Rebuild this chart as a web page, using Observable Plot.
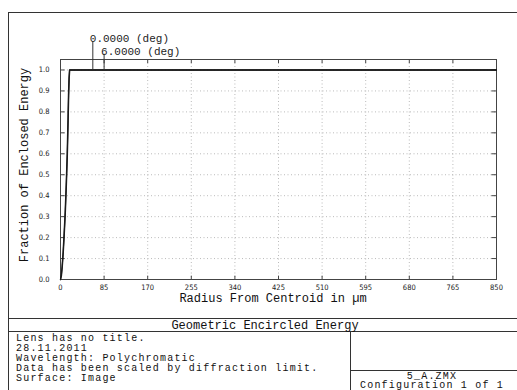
<!DOCTYPE html>
<html><head><meta charset="utf-8">
<script src="https://cdn.jsdelivr.net/npm/d3@7"></script>
<script src="https://cdn.jsdelivr.net/npm/@observablehq/plot@0.6"></script>
<style>body{margin:0;background:#fff} svg{display:block}</style>
</head><body><div id="chart"></div>
<script>
// Field 0.0000 deg
const radius0 = [0, 1.5, 3, 5, 7, 9, 11, 13, 14.5, 15.5, 16.5, 17.5, 850];
const frac0   = [0, 0.02, 0.06, 0.13, 0.22, 0.32, 0.45, 0.6, 0.76, 0.88, 0.96, 1.0, 1.0];
// Field 6.0000 deg
const radius6 = [0, 2, 3.5, 5.5, 7.5, 9.5, 11.5, 13.5, 15, 16, 17, 18, 850];
const frac6   = [0, 0.02, 0.06, 0.13, 0.22, 0.32, 0.45, 0.6, 0.76, 0.88, 0.96, 1.0, 1.0];
const fieldNames = ["0.0000 (deg)", "6.0000 (deg)"];
const fieldLabelRadius = [63, 85];
const xTicks = [0, 85, 170, 255, 340, 425, 510, 595, 680, 765, 850];
const yTicks = [0, 0.1, 0.2, 0.3, 0.4, 0.5, 0.6, 0.7, 0.8, 0.9, 1.0];
const xTitle = "Radius From Centroid in µm";
const yTitle = "Fraction of Enclosed Energy";
const chartTitle = "Geometric Encircled Energy";
const infoLines = ["Lens has no title.", "28.11.2011", "Wavelength: Polychromatic", "Data has been scaled by diffraction limit.", "Surface: Image"];
const fileLines = ["5_A.ZMX", "Configuration 1 of 1"];

const data = [
  ...radius0.map((r, i) => ({r, f: frac0[i], field: fieldNames[0]})),
  ...radius6.map((r, i) => ({r, f: frac6[i], field: fieldNames[1]}))
];
const labels = fieldNames.map((name, i) => ({name, r: fieldLabelRadius[i], i}));

const mono = "'Liberation Mono', 'DejaVu Sans Mono', monospace";
const small = "'Liberation Sans Narrow', 'DejaVu Sans Condensed', 'Liberation Sans', sans-serif";

const plot = Plot.plot({
  width: 517, height: 390,
  marginLeft: 60, marginRight: 21, marginTop: 59, marginBottom: 111,
  x: {domain: [0, 850]},
  y: {domain: [0, 1.05]},
  style: {background: "white", color: "#222", fontFamily: small},
  marks: [
    Plot.gridX(xTicks, {stroke: "#aaa", strokeOpacity: 0.8, strokeDasharray: "1,2.5"}),
    Plot.gridY(yTicks, {stroke: "#aaa", strokeOpacity: 0.8, strokeDasharray: "1,2.5"}),
    Plot.frame({stroke: "#444", strokeWidth: 1}),
    // inward ticks on all four sides
    Plot.ruleX(xTicks, {x: d => d, y1: 0, y2: 0.016, stroke: "#444"}),
    Plot.ruleX(xTicks, {x: d => d, y1: 1.05, y2: 1.03, stroke: "#444"}),
    Plot.ruleY(yTicks, {y: d => d, x1: 0, x2: 9, stroke: "#444"}),
    Plot.ruleY(yTicks, {y: d => d, x1: 841, x2: 850, stroke: "#444"}),
    Plot.axisX(xTicks, {tickSize: 0, tickPadding: 5, fontSize: 7.5, label: null, fill: "#222", fontFamily: small}),
    Plot.axisY(yTicks, {tickSize: 0, tickPadding: 11, fontSize: 7.5, label: null, tickFormat: d => d.toFixed(1), fill: "#222", fontFamily: small}),
    Plot.line(data, {x: "r", y: "f", z: "field", stroke: "#1a1a1a", strokeWidth: 1.3}),
    // field leaders and labels
    Plot.ruleX(labels, {x: "r", y1: 1.0, y2: d => d.i === 0 ? 1.135 : 1.075, stroke: "#333"}),
    Plot.text(labels, {x: "r", y: 1.0, text: "name", textAnchor: "start", dx: -3, dy: -32, fontFamily: mono, fontSize: 11, fill: "#222", filter: d => d.i === 0}),
    Plot.text(labels, {x: "r", y: 1.0, text: "name", textAnchor: "start", dx: -3, dy: -19, fontFamily: mono, fontSize: 11, fill: "#222", filter: d => d.i === 1})
  ]
});

document.getElementById("chart").append(plot);
const svg = d3.select(plot);
const g = svg.append("g").attr("fill", "none").attr("stroke", "#333").attr("stroke-width", 1);
g.append("rect").attr("x", 8.5).attr("y", 12.5).attr("width", 520).attr("height", 400);
g.append("line").attr("x1", 8.5).attr("x2", 520).attr("y1", 318.5).attr("y2", 318.5);
g.append("line").attr("x1", 8.5).attr("x2", 520).attr("y1", 331.5).attr("y2", 331.5);
g.append("line").attr("x1", 350.5).attr("x2", 350.5).attr("y1", 331.5).attr("y2", 400);
g.append("line").attr("x1", 350.5).attr("x2", 520).attr("y1", 370.5).attr("y2", 370.5);

const t = svg.append("g").attr("font-family", mono).attr("font-size", 12).attr("fill", "#111").attr("text-anchor", "start");
t.append("text").attr("x", 24).attr("y", 165).attr("transform", "rotate(-90,24,165)")
  .attr("text-anchor", "middle").attr("dy", "0.35em").text(yTitle);
t.append("text").attr("x", 273).attr("y", 298).attr("text-anchor", "middle").attr("dy", "0.35em").text(xTitle);
t.append("text").attr("x", 265).attr("y", 325).attr("text-anchor", "middle").attr("dy", "0.35em").text(chartTitle);
const info = t.append("g").attr("font-size", 10).attr("letter-spacing", "1.2px");
infoLines.forEach((s, i) => info.append("text").attr("x", 16).attr("y", 337 + i * 10).attr("dy", "0.35em").attr("text-anchor", "start").text(s));
fileLines.forEach((s, i) => info.append("text").attr("x", 432).attr("y", 375 + i * 9.5).attr("text-anchor", "middle").attr("dy", "0.35em").text(s));
</script></body></html>
